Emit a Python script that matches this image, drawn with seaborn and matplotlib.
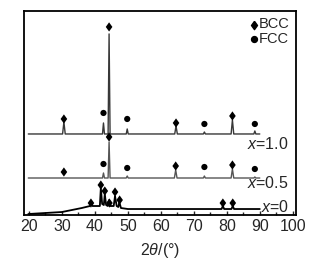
import matplotlib
matplotlib.use('Agg')
import matplotlib.pyplot as plt
import seaborn as sns
import pandas as pd
from matplotlib.ticker import MultipleLocator

# XRD patterns, 2theta (deg) and intensity above each trace's baseline (a.u.)
tt_10 = [19.8, 30.2, 30.6, 31.0, 42.3, 42.6, 42.9, 44.0, 44.3, 44.6, 49.5, 49.8, 50.1,
         64.2, 64.6, 65.0, 72.9, 73.2, 73.5, 81.3, 81.7, 82.1, 88.2, 88.5, 88.8, 90.0]
int_10 = [0, 0, 12, 0, 0, 11, 0, 0, 100, 0, 0, 5, 0,
          0, 8, 0, 0, 2, 0, 0, 14, 0, 0, 3, 0, 0]

tt_05 = [19.8, 42.3, 42.6, 42.9, 44.0, 44.3, 44.6, 49.5, 49.8, 50.1,
         64.1, 64.5, 64.9, 72.9, 73.2, 73.5, 81.3, 81.7, 82.1, 88.2, 88.5, 88.8, 90.0]
int_05 = [0, 0, 5, 0, 0, 36, 0, 0, 2, 0,
          0, 8, 0, 0, 2, 0, 0, 9, 0, 0, 1, 0, 0]

tt_00 = [19.8, 30.0, 36.0, 38.5, 38.9, 39.3, 41.5, 41.8, 42.2, 42.7, 43.0, 43.4,
         43.9, 44.3, 44.7, 45.7, 46.1, 46.6, 47.1, 47.4, 47.9, 50.0,
         78.4, 78.8, 79.2, 81.4, 81.8, 82.2, 90.0]
int_00 = [1, 3, 7, 9, 12, 9, 9, 27, 11, 10, 21, 10,
          9, 15, 9, 9, 19, 9, 8, 13, 7, 6,
          6, 9, 6, 6, 9, 6, 6]

# phase markers: 2theta and height above baseline
bcc_10_tt, bcc_10_h = [30.6, 44.3, 64.6, 81.7], [15, 107, 11, 18]
fcc_10_tt, fcc_10_h = [42.6, 49.8, 73.2, 88.5], [21, 15, 10, 10]
bcc_05_tt, bcc_05_h = [30.6, 44.3, 64.5, 81.7], [6, 41, 12, 13]
fcc_05_tt, fcc_05_h = [42.6, 49.8, 73.2, 88.5], [14, 10, 11, 9]
bcc_00_tt = [38.8, 41.8, 43.0, 44.4, 46.1, 47.5, 78.8, 81.8]
bcc_00_h = [12, 30, 24, 12, 23, 15, 12, 12]

labels = ['x=1.0', 'x=0.5', 'x=0']

sns.set_style('ticks')
plt.rcParams['font.family'] = ['Liberation Sans', 'DejaVu Sans']
plt.rcParams['mathtext.fontset'] = 'custom'
plt.rcParams['mathtext.rm'] = 'Liberation Sans'
plt.rcParams['mathtext.it'] = 'Liberation Sans:italic'

fig = plt.figure(figsize=(3.27, 2.6), dpi=100)
ax = fig.add_axes([0.0734, 0.173, 0.832, 0.785])

# diamond a bit wider than matplotlib's thin one
diamond = [(0, 1), (0.72, 0), (0, -1), (-0.72, 0), (0, 1)]

offsets = [81, 37, 0]
colors = ['#383838', '#555555', '#000000']
widths = [1.0, 1.0, 1.3]
traces = [(tt_10, int_10), (tt_05, int_05), (tt_00, int_00)]
for (tt, inten), off, c, w in zip(traces, offsets, colors, widths):
    df = pd.DataFrame({'tt': tt, 'I': [v + off for v in inten]})
    sns.lineplot(data=df, x='tt', y='I', ax=ax, color=c, lw=w, estimator=None)

mk = dict(color='black', edgecolor='none', ax=ax, legend=False, zorder=3)
sns.scatterplot(x=bcc_10_tt, y=[h + offsets[0] for h in bcc_10_h], marker=diamond, s=44, **mk)
sns.scatterplot(x=fcc_10_tt, y=[h + offsets[0] for h in fcc_10_h], marker='o', s=20, **mk)
sns.scatterplot(x=bcc_05_tt, y=[h + offsets[1] for h in bcc_05_h], marker=diamond, s=44, **mk)
sns.scatterplot(x=fcc_05_tt, y=[h + offsets[1] for h in fcc_05_h], marker='o', s=20, **mk)
sns.scatterplot(x=bcc_00_tt, y=[h + offsets[2] for h in bcc_00_h], marker=diamond, s=44, **mk)

# trace labels
label_y = [71, 32, 8]
for lab, yy in zip(labels, label_y):
    name, val = lab.split('=')
    ax.text(98.8, yy, '$' + name + '$=' + val, ha='right', va='center', fontsize=11.5)

# legend
ax.scatter([], [], marker=diamond, s=36, color='black', label='BCC')
ax.scatter([], [], marker='o', s=18, color='black', label='FCC')
ax.legend(loc='upper right', frameon=False, fontsize=10.5, handletextpad=-0.3,
          borderaxespad=0.15, labelspacing=0.05, handlelength=1.2, borderpad=0.3)

ax.set_xlim(18.5, 101)
ax.set_ylim(0, 204)
ax.xaxis.set_major_locator(MultipleLocator(10))
ax.xaxis.set_minor_locator(MultipleLocator(5))
ax.tick_params(axis='x', which='major', direction='in', length=3, width=1, labelsize=11.5, pad=3)
ax.tick_params(axis='x', which='minor', direction='in', length=2, width=1)
ax.set_yticks([])
ax.set_ylabel('')
ax.set_xlabel(r'2$\theta$/(°)', fontsize=11.5, labelpad=5)
for s in ax.spines.values():
    s.set_visible(True)
    s.set_linewidth(1.3)
    s.set_color('black')

fig.savefig('out.png', dpi=100)
